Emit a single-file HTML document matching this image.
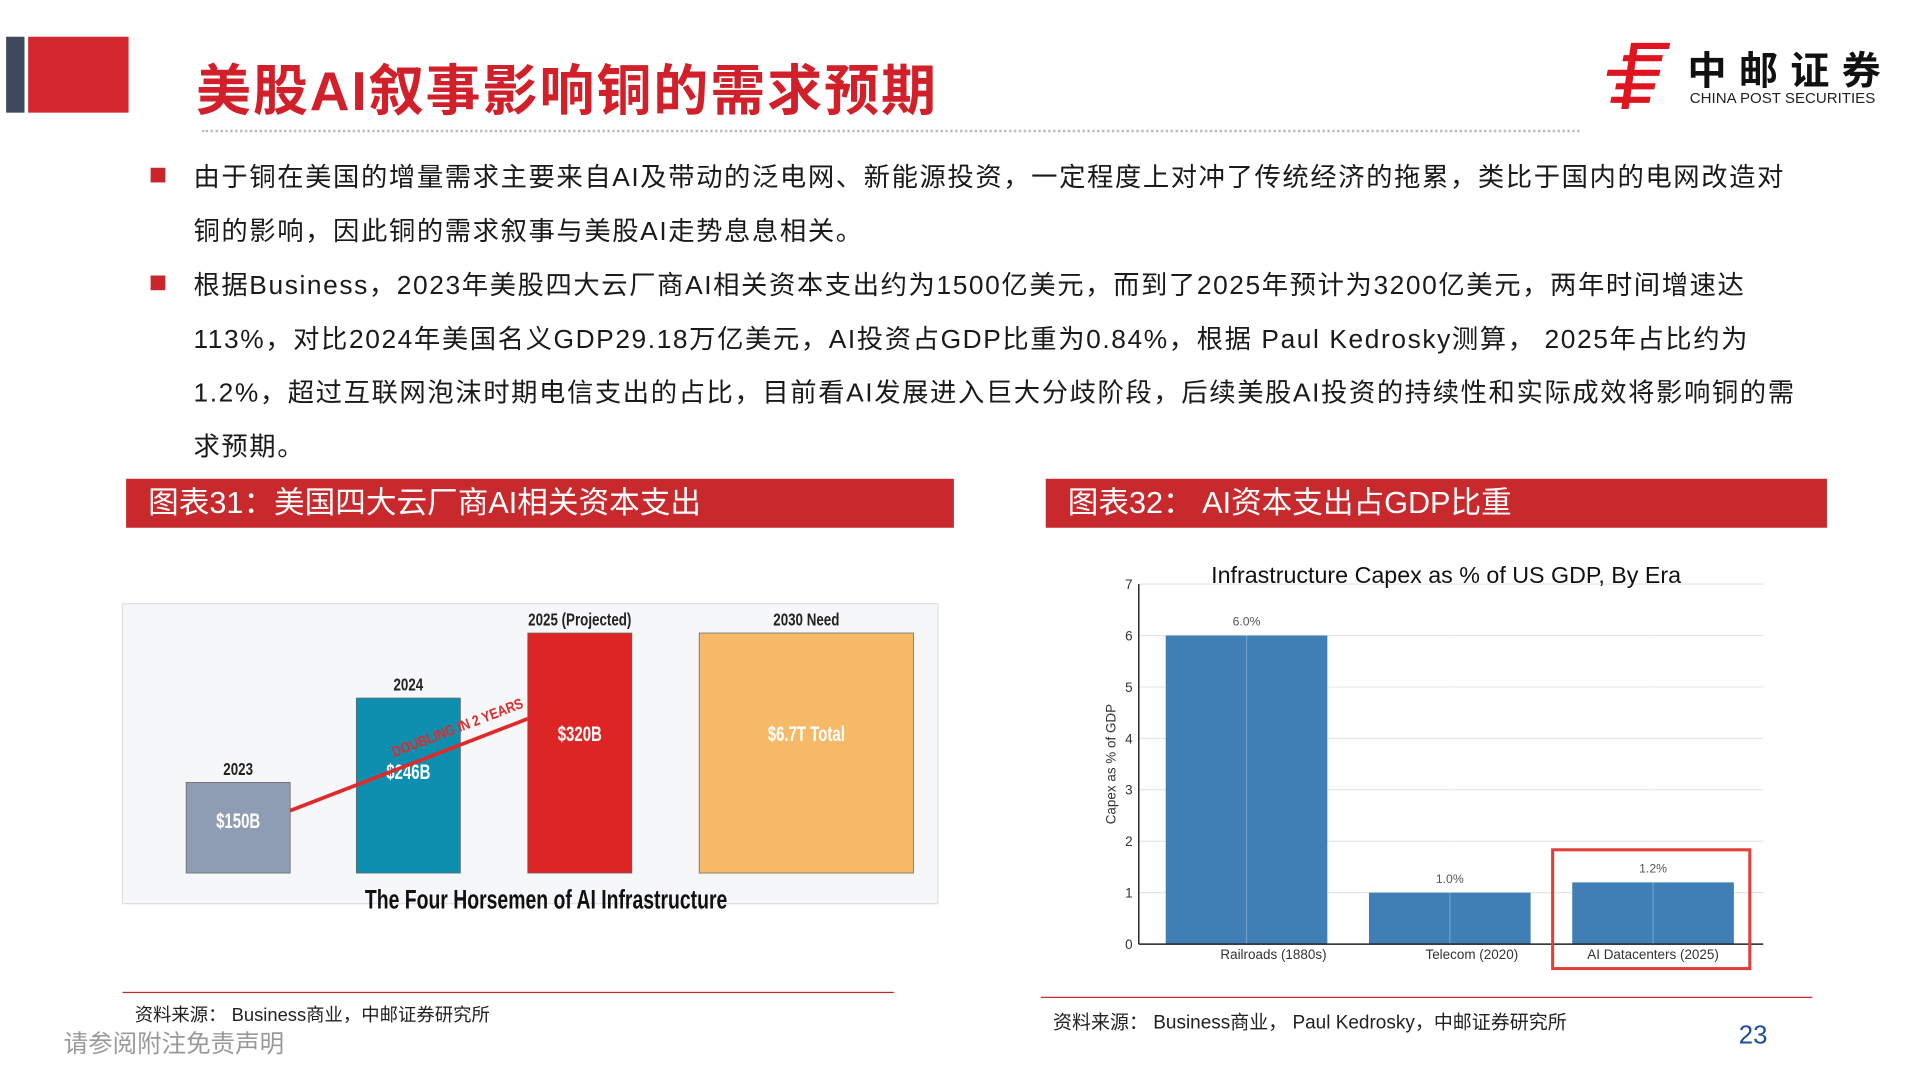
<!DOCTYPE html>
<html><head><meta charset="utf-8">
<style>
html,body{margin:0;padding:0;background:#fff;overflow:hidden;}
#stage{position:absolute;left:0;top:0;width:1568px;height:882px;transform:scale(1.22449);transform-origin:0 0;font-family:"Liberation Sans","Noto Sans CJK SC",sans-serif;color:#222;}
.abs{position:absolute;}
.line{position:absolute;left:158px;font-size:21.5px;letter-spacing:1.3px;white-space:nowrap;color:#1a1a1a;}
.bul{position:absolute;left:123px;width:12px;height:12px;background:#c8262b;}
.cap{position:absolute;height:40px;background:#c8292c;color:#fff;font-size:25px;line-height:40px;padding-left:18px;box-sizing:border-box;}
</style></head><body>
<div id="stage">
<div class="abs" style="left:5px;top:30px;width:15px;height:62px;background:#3c4a5c"></div>
<div class="abs" style="left:23px;top:30px;width:82px;height:62px;background:#d2282e"></div>
<div class="abs" style="left:160px;top:38px;font-size:45px;font-weight:bold;color:#d2202a;letter-spacing:1.5px;white-space:nowrap">美股AI叙事影响铜的需求预期</div>
<div class="abs" style="left:165px;top:106px;width:1125px;border-top:2px dotted #bbb"></div>
<div class="abs" style="left:1308px;top:33px;width:240px;height:60px">
<svg width="60" height="58" viewBox="0 0 60 58" style="position:absolute;left:0;top:0">
<g fill="#e0141e"><polygon points="28,2 56,2 55,7 27,7"/><polygon points="18,12 50,12 49,17 17,17"/><polygon points="5,24 48,24 47,29 4,29"/><polygon points="12,35 44,35 43,40 11,40"/><polygon points="8,46 40,46 39,51 7,51"/><polygon points="24,2 30,2 22,56 16,56"/></g></svg>
<div class="abs" style="left:70px;top:0px;font-size:32px;font-weight:bold;letter-spacing:10px;color:#111;white-space:nowrap">中邮证券</div>
<div class="abs" style="left:72px;top:40px;font-size:12.3px;color:#222;white-space:nowrap">CHINA POST SECURITIES</div>
</div>

<div class="bul" style="top:137px"></div>
<div class="line" style="top:128px">由于铜在美国的增量需求主要来自AI及带动的泛电网、新能源投资，一定程度上对冲了传统经济的拖累，类比于国内的电网改造对</div>
<div class="line" style="top:172px">铜的影响，因此铜的需求叙事与美股AI走势息息相关。</div>
<div class="bul" style="top:225px"></div>
<div class="line" style="top:216px">根据Business，2023年美股四大云厂商AI相关资本支出约为1500亿美元，而到了2025年预计为3200亿美元，两年时间增速达</div>
<div class="line" style="top:260px">113%，对比2024年美国名义GDP29.18万亿美元，AI投资占GDP比重为0.84%，根据 Paul Kedrosky测算， 2025年占比约为</div>
<div class="line" style="top:304px">1.2%，超过互联网泡沫时期电信支出的占比，目前看AI发展进入巨大分歧阶段，后续美股AI投资的持续性和实际成效将影响铜的需</div>
<div class="line" style="top:348px">求预期。</div>

<div class="cap" style="left:103px;top:391px;width:676px">图表31：美国四大云厂商AI相关资本支出</div>
<div class="cap" style="left:854px;top:391px;width:638px">图表32： AI资本支出占GDP比重</div>

<svg class="abs" id="left" style="left:0;top:0" width="1568" height="882"></svg>
<svg class="abs" id="right" style="left:0;top:0" width="1568" height="882"></svg>

<div class="abs" style="left:100px;top:810px;width:630px;height:1px;background:#c8262b"></div>
<div class="abs" style="left:110px;top:818px;font-size:15px;white-space:nowrap">资料来源： Business商业，中邮证券研究所</div>
<div class="abs" style="left:850px;top:814px;width:630px;height:1px;background:#c8262b"></div>
<div class="abs" style="left:860px;top:823px;font-size:15.5px;white-space:nowrap">资料来源： Business商业， Paul Kedrosky，中邮证券研究所</div>
<div class="abs" style="left:52px;top:836px;font-size:20px;color:#999;white-space:nowrap">请参阅附注免责声明</div>
<div class="abs" style="left:1420px;top:834px;font-size:21px;color:#1a4fa0">23</div>
</div>
<script>
// Left chart data
const capexYears = ['2023','2024','2025 (Projected)','2030 Need'];
const capexValues = [150, 246, 320, 320];
const capexLabels = ['$150B','$246B','$320B','$6.7T Total'];
// Right chart data
const eraCats = ['Railroads (1880s)','Telecom (2020)','AI Datacenters (2025)'];
const eraValues = [6.0, 1.0, 1.2];
const eraLabels = ['6.0%','1.0%','1.2%'];
const yTicks = [0,1,2,3,4,5,6,7];

const NS='http://www.w3.org/2000/svg';
function mk(svg,tag,attrs,txt){const e=document.createElementNS(NS,tag);for(const k in attrs)e.setAttribute(k,attrs[k]);if(txt!==undefined)e.textContent=txt;svg.appendChild(e);return e;}

// LEFT
const L=document.getElementById('left');
let e=mk(L,'rect',{x:100,y:493,width:666,height:245,fill:'#f6f7f9',stroke:'#dde0e4'});


const lBase=713;
function lH(v){return -33.6+0.7176*v;}
const lX=[152,291,431,571], lW=[85,85,85,175];
const lCol=['#8f9db4','#0f8fb0','#de2526','#f5b968'];
capexValues.forEach((v,i)=>{
  const h=lH(v), y=lBase-h;
  const cx=lX[i]+lW[i]/2;
  const r=mk(L,'rect',{x:lX[i],y:y,width:lW[i],height:h,fill:lCol[i],stroke:'#666','stroke-width':0.6});
  
  
  const t=mk(L,'text',{x:cx,y:y-6,'text-anchor':'middle','font-size':14,'font-weight':'bold',fill:'#222',transform:`translate(${cx} 0) scale(0.78 1) translate(${-cx} 0)`},capexYears[i]);
  
  
  const vl=mk(L,'text',{x:cx,y:y+h*0.42+6,'text-anchor':'middle','font-size':17,'font-weight':'bold',fill:'#fff',transform:`translate(${cx} 0) scale(0.72 1) translate(${-cx} 0)`},capexLabels[i]);
  
  
});
e=mk(L,'line',{x1:237,y1:662,x2:431,y2:587,stroke:'#e02a2a','stroke-width':3});


e=mk(L,'text',{x:375,y:598,'text-anchor':'middle','font-size':12,'font-weight':'bold',fill:'#e02a2a',transform:'rotate(-21 375 598) translate(375 0) scale(0.85 1) translate(-375 0)'},'DOUBLING IN 2 YEARS');


e=mk(L,'text',{x:446,y:742,'text-anchor':'middle','font-size':22,'font-weight':'bold',fill:'#111',transform:'translate(446 0) scale(0.72 1) translate(-446 0)'},'The Four Horsemen of AI Infrastructure');



// RIGHT
const R=document.getElementById('right');
const x0=930,x1=1440,y0=771,unit=42,step=166,first=1018,bw=132;
function yS(v){return y0-v*unit;}
function xC(i){return first+i*step;}
yTicks.forEach(t=>{
  const g=mk(R,'line',{x1:x0,x2:x1,y1:yS(t),y2:yS(t),stroke:'#e6e6e6','stroke-width':1});
  
  
  const tl=mk(R,'text',{x:x0-5,y:yS(t)+4,'text-anchor':'end','font-size':11,fill:'#333'},String(t));
  
  
});
eraValues.forEach((v,i)=>{
  const b=mk(R,'rect',{x:xC(i)-bw/2,y:yS(v),width:bw,height:v*unit,fill:'#3f7fb5'});
  
  
  const gl=mk(R,'line',{x1:xC(i),x2:xC(i),y1:yS(7),y2:y0,stroke:'#ffffff','stroke-opacity':0.25});
  
  
  const vl=mk(R,'text',{x:xC(i),y:yS(v)-8,'text-anchor':'middle','font-size':10,fill:'#555'},eraLabels[i]);
  
  
  const cl=mk(R,'text',{x:xC(i)+(i==0?22:(i==1?18:0)),y:y0+12,'text-anchor':'middle','font-size':11,fill:'#333'},eraCats[i]);
  
  
});
e=mk(R,'line',{x1:x0,x2:x0,y1:yS(7),y2:y0,stroke:'#222','stroke-width':1.2});


e=mk(R,'line',{x1:x0,x2:x1,y1:y0,y2:y0,stroke:'#222','stroke-width':1.2});


e=mk(R,'text',{x:911,y:624,'text-anchor':'middle','font-size':11,fill:'#333',transform:'rotate(-90 911 624)'},'Capex as % of GDP');


e=mk(R,'text',{x:1181,y:476,'text-anchor':'middle','font-size':19,fill:'#111'},'Infrastructure Capex as % of US GDP, By Era');


e=mk(R,'rect',{x:1268,y:694,width:161,height:97,fill:'none',stroke:'#e0403a','stroke-width':2.5});


</script>
</body></html>
